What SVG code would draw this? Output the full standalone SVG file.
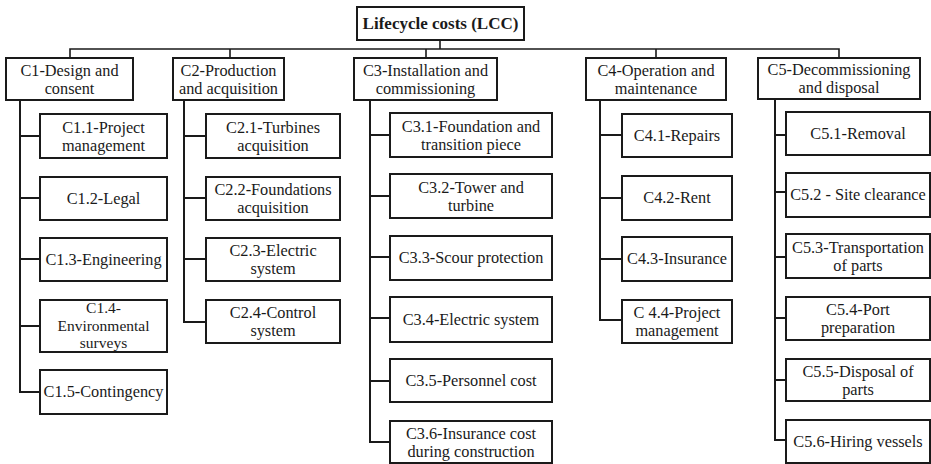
<svg xmlns="http://www.w3.org/2000/svg" width="931" height="464" viewBox="0 0 931 464">
<style>
rect{fill:#fff;stroke:#1a1a1a;stroke-width:2}
text{font-family:"Liberation Serif","Times New Roman",serif;font-size:16.3px;fill:#1a1a1a;text-anchor:middle}
.b{font-weight:bold;font-size:17px}
.c path{fill:none;stroke:#1a1a1a;stroke-width:2}
.c .bus{stroke-width:1.6}
</style>
<rect x="0" y="0" width="931" height="464" style="fill:#fff;stroke:none"/>
<g class="c" id="connectors">
<path class="bus" d="M440 40V49M70 58V49H839V58M230 49V58M426 49V58M656 49V58"/>
<path d="M20 100V392H40M20 136H40M20 198H40M20 259H40M20 326H40"/>
<path d="M184 100V322H206M184 136H206M184 198H206M184 259H206"/>
<path d="M370 100V442H390M370 135H390M370 196H390M370 257H390M370 318H390M370 381H390"/>
<path d="M600 100V320H622M600 135H622M600 198H622M600 259H622"/>
<path d="M775 99V440H786M775 135H786M775 192H786M775 257H786M775 318H786M775 380H786"/>
</g>
<g id="root"><rect x="357" y="7" width="167" height="33"/><text class="b" x="440.5" y="29">Lifecycle costs (LCC)</text></g>
<g id="c1"><rect x="6" y="58" width="127" height="42"/><text x="69.5" y="75.5">C1-Design and</text><text x="69.5" y="93.5">consent</text></g>
<g id="c2"><rect x="173" y="58" width="111" height="42"/><text x="228.5" y="75.5">C2-Production</text><text x="228.5" y="93.5">and acquisition</text></g>
<g id="c3"><rect x="354" y="58" width="143" height="42"/><text x="425.5" y="75.5">C3-Installation and</text><text x="425.5" y="93.5">commissioning</text></g>
<g id="c4"><rect x="586" y="58" width="140" height="42"/><text x="656" y="75.5">C4-Operation and</text><text x="656" y="93.5">maintenance</text></g>
<g id="c5"><rect x="758" y="58" width="162" height="41"/><text x="839" y="75">C5-Decommissioning</text><text x="839" y="93">and disposal</text></g>

<g id="c1-1"><rect x="40" y="114" width="127" height="44"/><text x="103.5" y="132.5">C1.1-Project</text><text x="103.5" y="150.5">management</text></g>
<g id="c1-2"><rect x="40" y="177" width="127" height="43"/><text x="103.5" y="203.5">C1.2-Legal</text></g>
<g id="c1-3"><rect x="40" y="238" width="127" height="43"/><text x="103.5" y="264.5">C1.3-Engineering</text></g>
<g id="c1-4"><rect x="40" y="300" width="127" height="52"/><text x="103.5" y="313" style="font-size:15.5px">C1.4-</text><text x="103.5" y="330.5" style="font-size:15.5px">Environmental</text><text x="103.5" y="348" style="font-size:15.5px">surveys</text></g>
<g id="c1-5"><rect x="40" y="370" width="127" height="44"/><text x="103.5" y="397">C1.5-Contingency</text></g>

<g id="c2-1"><rect x="206" y="114" width="134" height="44"/><text x="273" y="132.5">C2.1-Turbines</text><text x="273" y="150.5">acquisition</text></g>
<g id="c2-2"><rect x="206" y="177" width="134" height="43"/><text x="273" y="195">C2.2-Foundations</text><text x="273" y="213">acquisition</text></g>
<g id="c2-3"><rect x="206" y="238" width="134" height="43"/><text x="273" y="256">C2.3-Electric</text><text x="273" y="274">system</text></g>
<g id="c2-4"><rect x="206" y="300" width="134" height="43"/><text x="273" y="318">C2.4-Control</text><text x="273" y="336">system</text></g>

<g id="c3-1"><rect x="390" y="113" width="162" height="44"/><text x="471" y="131.5">C3.1-Foundation and</text><text x="471" y="149.5">transition piece</text></g>
<g id="c3-2"><rect x="390" y="174" width="162" height="44"/><text x="471" y="192.5">C3.2-Tower and</text><text x="471" y="210.5">turbine</text></g>
<g id="c3-3"><rect x="390" y="236" width="162" height="44"/><text x="471" y="263">C3.3-Scour protection</text></g>
<g id="c3-4"><rect x="390" y="297" width="162" height="45"/><text x="471" y="324.5">C3.4-Electric system</text></g>
<g id="c3-5"><rect x="390" y="359" width="162" height="43"/><text x="471" y="385.5">C3.5-Personnel cost</text></g>
<g id="c3-6"><rect x="390" y="421" width="162" height="42"/><text x="471" y="438.5">C3.6-Insurance cost</text><text x="471" y="456.5">during construction</text></g>

<g id="c4-1"><rect x="622" y="114" width="110" height="43"/><text x="677" y="140.5">C4.1-Repairs</text></g>
<g id="c4-2"><rect x="622" y="176" width="110" height="44"/><text x="677" y="203">C4.2-Rent</text></g>
<g id="c4-3"><rect x="622" y="237" width="110" height="44"/><text x="677" y="264">C4.3-Insurance</text></g>
<g id="c4-4"><rect x="622" y="300" width="110" height="43"/><text x="677" y="318">C 4.4-Project</text><text x="677" y="336">management</text></g>

<g id="c5-1"><rect x="786" y="112" width="144" height="43"/><text x="858" y="139">C5.1-Removal</text></g>
<g id="c5-2"><rect x="786" y="173" width="144" height="44"/><text x="858" y="200">C5.2 - Site clearance</text></g>
<g id="c5-3"><rect x="786" y="234" width="144" height="44"/><text x="858" y="252.5">C5.3-Transportation</text><text x="858" y="270.5">of parts</text></g>
<g id="c5-4"><rect x="786" y="297" width="144" height="43"/><text x="858" y="315">C5.4-Port</text><text x="858" y="333">preparation</text></g>
<g id="c5-5"><rect x="786" y="359" width="144" height="42"/><text x="858" y="376.5">C5.5-Disposal of</text><text x="858" y="394.5">parts</text></g>
<g id="c5-6"><rect x="786" y="420" width="144" height="43"/><text x="858" y="446.5">C5.6-Hiring vessels</text></g>
</svg>
